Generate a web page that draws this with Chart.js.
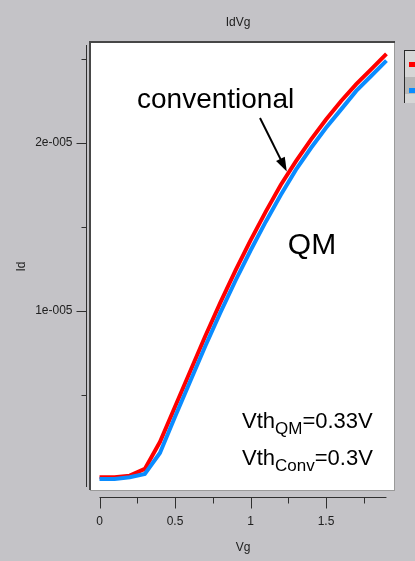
<!DOCTYPE html>
<html>
<head>
<meta charset="utf-8">
<script src="https://cdn.jsdelivr.net/npm/chart.js@4.4.1/dist/chart.umd.min.js"></script>
<style>
    html, body { margin: 0; padding: 0; background: #c4c3c7; }
    #wrap { width: 415px; height: 561px; }
</style>
</head>
<body>
<div id="wrap"><canvas id="idvg" width="415" height="561"></canvas></div>
<script>
// IdVg chart

const vg = [0, 0.1, 0.2, 0.3, 0.4, 0.5, 0.6, 0.7, 0.8, 0.9, 1.0, 1.1, 1.2, 1.3, 1.4, 1.5, 1.6, 1.7, 1.8, 1.9];
// Id in units of 1e-5
const idConv = [0.01, 0.01, 0.02, 0.06, 0.22, 0.43, 0.64, 0.85, 1.05, 1.24, 1.42, 1.59, 1.75, 1.89, 2.02, 2.14, 2.25, 2.35, 2.44, 2.53];
const idQM = [0.0, 0.0, 0.01, 0.03, 0.155, 0.37, 0.58, 0.79, 0.99, 1.18, 1.36, 1.53, 1.69, 1.84, 1.97, 2.09, 2.20, 2.31, 2.40, 2.49];

const xMajor = [0, 0.5, 1, 1.5];
const xMajorLabels = ['0', '0.5', '1', '1.5'];
const xMinor = [0.25, 0.75, 1.25, 1.75];
const yMajor = [1, 2];
const yMajorLabels = ['1e-005', '2e-005'];
const yMinor = [0.5, 1.5, 2.5];

const seriesNames = ['conventional', 'QM'];
const seriesColors = ['#ff0000', '#0a8cff'];

const tickFont = '12px "Liberation Sans", Arial, sans-serif';

function drawSub(ctx, x, y, main, sub, tail) {
    ctx.textAlign = 'left';
    ctx.textBaseline = 'alphabetic';
    ctx.font = '22px "Liberation Sans", Arial, sans-serif';
    ctx.fillText(main, x, y);
    x += ctx.measureText(main).width;
    ctx.font = '17px "Liberation Sans", Arial, sans-serif';
    ctx.fillText(sub, x, y + 6);
    x += ctx.measureText(sub).width;
    ctx.font = '22px "Liberation Sans", Arial, sans-serif';
    ctx.fillText(tail, x, y);
}

const decor = {
    id: 'decor',
    beforeDraw(chart) {
        const ctx = chart.ctx;
        const a = chart.chartArea;
        ctx.save();
        ctx.fillStyle = '#c4c3c7';
        ctx.fillRect(0, 0, chart.width, chart.height);
        ctx.fillStyle = '#ffffff';
        ctx.fillRect(a.left, a.top, a.right - a.left, a.bottom - a.top);
        // sunken frame
        ctx.fillStyle = '#9a9a9a';
        ctx.fillRect(a.right, a.top, 1, a.bottom - a.top + 1);
        ctx.fillRect(a.left, a.bottom, a.right - a.left + 1, 1);
        ctx.fillStyle = '#474747';
        ctx.fillRect(a.left - 1, a.top - 2, a.right - a.left + 2, 2);
        ctx.fillRect(a.left - 1, a.top - 2, 2, a.bottom - a.top + 2);
        ctx.restore();
    },
    afterDraw(chart) {
        const ctx = chart.ctx;
        const a = chart.chartArea;
        const xs = chart.scales.x;
        const ys = chart.scales.y;
        ctx.save();
        ctx.strokeStyle = '#303030';
        ctx.fillStyle = '#202020';
        ctx.lineWidth = 1;

        // y axis, offset left of the box
        const yAxisX = a.left - 3.5;
        ctx.beginPath();
        ctx.moveTo(yAxisX, a.top + 2);
        ctx.lineTo(yAxisX, a.bottom - 3);
        yMajor.forEach(v => {
            const p = Math.round(ys.getPixelForValue(v)) + 0.5;
            ctx.moveTo(yAxisX, p);
            ctx.lineTo(yAxisX - 10, p);
        });
        yMinor.forEach(v => {
            const p = Math.round(ys.getPixelForValue(v)) + 0.5;
            ctx.moveTo(yAxisX, p);
            ctx.lineTo(yAxisX - 5, p);
        });
        // x axis, offset below the box
        const xAxisY = a.bottom + 7.5;
        ctx.moveTo(xs.getPixelForValue(0), xAxisY);
        ctx.lineTo(xs.getPixelForValue(1.9), xAxisY);
        xMajor.forEach(v => {
            const p = Math.round(xs.getPixelForValue(v)) + 0.5;
            ctx.moveTo(p, xAxisY);
            ctx.lineTo(p, xAxisY + 11);
        });
        xMinor.forEach(v => {
            const p = Math.round(xs.getPixelForValue(v)) + 0.5;
            ctx.moveTo(p, xAxisY);
            ctx.lineTo(p, xAxisY + 6);
        });
        ctx.stroke();

        // tick labels
        ctx.font = tickFont;
        ctx.textAlign = 'right';
        ctx.textBaseline = 'middle';
        yMajor.forEach((v, i) => ctx.fillText(yMajorLabels[i], yAxisX - 14, ys.getPixelForValue(v)));
        ctx.textAlign = 'center';
        xMajor.forEach((v, i) => ctx.fillText(xMajorLabels[i], xs.getPixelForValue(v), a.bottom + 32));

        // axis titles and chart title
        ctx.fillText('Vg', (xs.getPixelForValue(0) + xs.getPixelForValue(1.9)) / 2, a.bottom + 58);
        ctx.fillText('IdVg', (a.left + a.right) / 2 - 4, 23);
        ctx.save();
        ctx.translate(22, (a.top + a.bottom) / 2);
        ctx.rotate(-Math.PI / 2);
        ctx.fillText('Id', 0, 0);
        ctx.restore();

        // annotations
        ctx.fillStyle = '#000000';
        ctx.strokeStyle = '#000000';
        ctx.font = '28px "Liberation Sans", Arial, sans-serif';
        ctx.textAlign = 'left';
        ctx.textBaseline = 'alphabetic';
        ctx.fillText(seriesNames[0], 137, 108);

        const tipX = xs.getPixelForValue(1.24);
        const tipY = ys.getPixelForValue(1.83);
        const fromX = 260, fromY = 118;
        const ang = Math.atan2(tipY - fromY, tipX - fromX);
        ctx.lineWidth = 2;
        ctx.beginPath();
        ctx.moveTo(fromX, fromY);
        ctx.lineTo(tipX - 10 * Math.cos(ang), tipY - 10 * Math.sin(ang));
        ctx.stroke();
        ctx.beginPath();
        ctx.moveTo(tipX, tipY);
        ctx.lineTo(tipX - 15 * Math.cos(ang - 0.33), tipY - 15 * Math.sin(ang - 0.33));
        ctx.lineTo(tipX - 15 * Math.cos(ang + 0.33), tipY - 15 * Math.sin(ang + 0.33));
        ctx.closePath();
        ctx.fill();

        ctx.font = '30px "Liberation Sans", Arial, sans-serif';
        ctx.textAlign = 'center';
        ctx.textBaseline = 'middle';
        ctx.fillText(seriesNames[1], 312, 246);

        drawSub(ctx, 242, 428, 'Vth', 'QM', '=0.33V');
        drawSub(ctx, 242, 465, 'Vth', 'Conv', '=0.3V');

        // legend box, cut off at the right edge
        ctx.fillStyle = '#d6d6d6';
        ctx.fillRect(404, 50, 11, 53);
        ctx.fillStyle = '#b8b8b8';
        ctx.fillRect(405, 77, 10, 17);
        ctx.fillStyle = '#2a2a2a';
        ctx.fillRect(404, 50, 1, 53);
        ctx.fillRect(404, 50, 11, 1);
        ctx.fillStyle = seriesColors[0];
        ctx.fillRect(409, 62, 6, 5);
        ctx.fillStyle = seriesColors[1];
        ctx.fillRect(409, 88, 6, 5);
        ctx.restore();
    }
};

new Chart(document.getElementById('idvg'), {
    type: 'line',
    data: {
        datasets: [
            {
                label: seriesNames[0],
                data: vg.map((v, i) => ({ x: v, y: idConv[i] })),
                borderColor: seriesColors[0],
                borderWidth: 4,
                pointRadius: 0,
                tension: 0,
                order: 1
            },
            {
                label: seriesNames[1],
                data: vg.map((v, i) => ({ x: v, y: idQM[i] })),
                borderColor: seriesColors[1],
                borderWidth: 4,
                pointRadius: 0,
                tension: 0,
                order: 0
            }
        ]
    },
    options: {
        responsive: false,
        animation: false,
        events: [],
        layout: { padding: { left: 90, top: 43, right: 21, bottom: 71 } },
        plugins: { legend: { display: false }, title: { display: false }, tooltip: { enabled: false } },
        scales: {
            x: { type: 'linear', display: false, min: -0.063, max: 1.95 },
            y: { type: 'linear', display: false, min: -0.0655, max: 2.595 }
        }
    },
    plugins: [decor]
});
</script>
</body>
</html>
